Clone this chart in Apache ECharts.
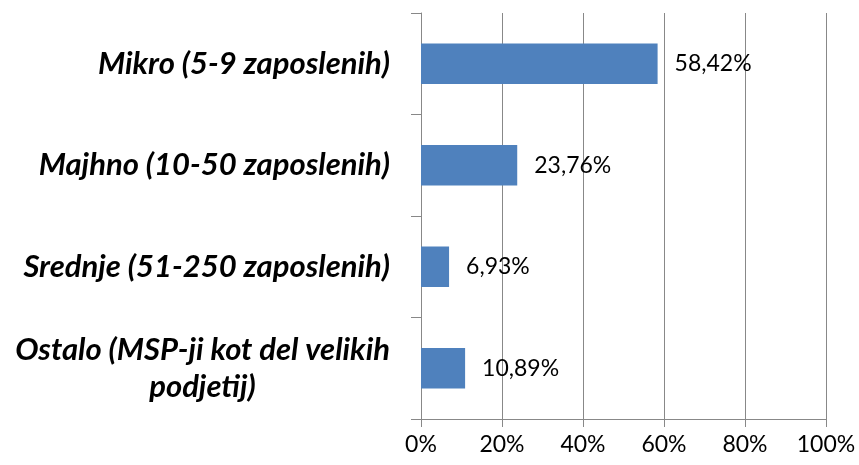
<!DOCTYPE html>
<html>
<head>
<meta charset="utf-8">
<script src="https://cdn.jsdelivr.net/npm/echarts@6/dist/echarts.min.js"></script>
<style>
  html, body { margin: 0; padding: 0; background: #fff; }
  #chart { width: 859px; height: 465px; }
</style>
</head>
<body>
<div id="chart"></div>
<script>
// --- Data ---
const categories = [
    'Mikro (5-9 zaposlenih)',
    'Majhno (10-50 zaposlenih)',
    'Srednje (51-250 zaposlenih)',
    'Ostalo (MSP-ji kot del velikih\npodjetij)'
];
const shares = [58.42, 23.76, 6.93, 10.89];
const xTicks = [0, 20, 40, 60, 80, 100];

const FONT = 'Lato';
const GRID_COLOR = '#888888';
const CAT_SIZE = 31;

const chart = echarts.init(document.getElementById('chart'), null, { renderer: 'canvas' });

// multi-line label: second line centred under the first (like the original)
function catLabel(value) {
    const lines = value.split('\n');
    if (lines.length === 1) return value;
    return `{a|${lines[0]}}\n{b|${lines[1]}}`;
}

const catStyle = { fontFamily: FONT, fontSize: CAT_SIZE, fontWeight: 'bold', fontStyle: 'italic', color: '#000', lineHeight: 37 };

chart.setOption({
    animation: false,
    grid: { left: 421, right: 33, top: 13, bottom: 46, containLabel: false },
    xAxis: {
        type: 'value',
        min: xTicks[0],
        max: xTicks[xTicks.length - 1],
        interval: 20,
        axisLine: { show: true, lineStyle: { color: GRID_COLOR, width: 1 } },
        axisTick: { show: true, length: 8, lineStyle: { color: GRID_COLOR } },
        splitLine: { show: true, lineStyle: { color: GRID_COLOR, width: 1 } },
        axisLabel: {
            formatter: v => v + '%',
            color: '#000',
            fontFamily: FONT,
            fontSize: 23,
            margin: 14
        }
    },
    yAxis: {
        type: 'category',
        inverse: true,
        data: categories,
        axisLine: { show: true, lineStyle: { color: GRID_COLOR, width: 1 } },
        axisTick: { show: true, length: 10, lineStyle: { color: GRID_COLOR } },
        axisLabel: Object.assign({
            formatter: catLabel,
            margin: 31,
            align: 'right',
            rich: {
                a: Object.assign({}, catStyle),
                b: Object.assign({ width: 375, align: 'center' }, catStyle)
            }
        }, catStyle)
    },
    series: [{
        type: 'bar',
        data: shares,
        barCategoryGap: '60%',
        itemStyle: { color: '#4f81bd' },
        label: {
            show: true,
            position: 'right',
            distance: 17,
            color: '#000',
            fontFamily: FONT,
            fontSize: 23,
            formatter: p => p.value.toFixed(2).replace('.', ',') + '%'
        }
    }]
});
</script>
</body>
</html>
